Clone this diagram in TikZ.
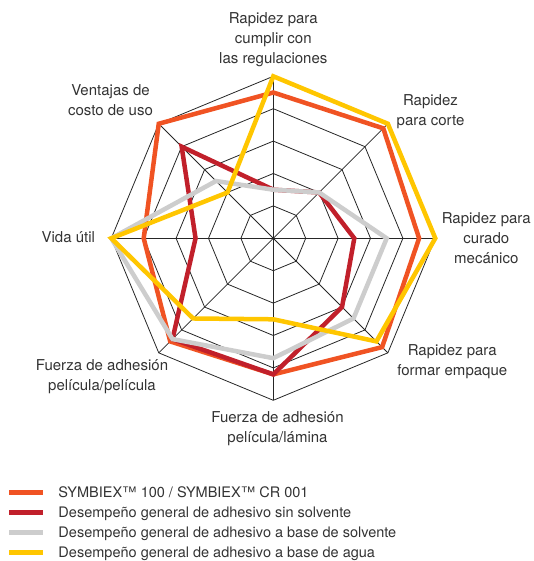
\documentclass[tikz,border=0pt]{standalone}
\usepackage{fontspec}
\setmainfont{TeX Gyre Heros}
\usetikzlibrary{positioning}

\definecolor{symbiex}{HTML}{F05323}
\definecolor{sinsolv}{HTML}{C1202B}
\definecolor{solvente}{HTML}{CDCDCD}
\definecolor{agua}{HTML}{FFC600}
\definecolor{txt}{HTML}{333333}

% one series: colour, then the eight values clockwise from the top
\newcommand{\radar}[9]{%
  \draw[serie,#1] (90:#2*\ring) -- (45:#3*\ring) -- (0:#4*\ring) -- (-45:#5*\ring)
    -- (-90:#6*\ring) -- (-135:#7*\ring) -- (180:#8*\ring) -- (135:#9*\ring) -- cycle;}

\begin{document}
\begin{tikzpicture}[x=1pt,y=1pt]
    % Define styles
    \tikzstyle{grid}=[draw=black!85,line width=0.8pt]
    \tikzstyle{serie}=[line width=4.5pt]
    \tikzstyle{axislabel}=[text=txt,font=\fontsize{15}{20}\selectfont,align=center,inner sep=0pt]
    \tikzstyle{legendtext}=[text=txt,font=\fontsize{14.5}{17}\selectfont,anchor=base west,inner sep=0pt]
    \def\ring{32.4}

    \useasboundingbox (-273.3,-322.7) rectangle (259.7,238.3);
    \coordinate (O) at (0,0);

    % Rings
    \foreach \r in {1,...,5} {
        \draw[grid] (90:\r*\ring) \foreach \k in {1,...,7} { -- (90-\k*45:\r*\ring) } -- cycle;
    }

    % Spokes
    \foreach \k in {0,...,7} {
        \coordinate (ax\k) at (90-\k*45:5*\ring);
        \draw[grid] (O) -- (ax\k);
    }

    % Series
    \radar{symbiex}{4.5}{4.8}{4.5}{4.75}{4.2}{4.5}{4.0}{5.0}
    \radar{sinsolv}{1.5}{2.0}{2.5}{3.0}{4.2}{4.4}{2.4}{4.0}
    \radar{solvente}{1.5}{2.0}{3.5}{3.5}{3.7}{4.4}{5.0}{2.5}
    \radar{agua}{5.0}{5.0}{5.0}{4.5}{2.5}{3.5}{5.0}{2.0}

    % Axis labels
    \node[axislabel] (lab0) at (0,199.1) {Rapidez para\\cumplir con\\las regulaciones};
    \node[axislabel] (lab1) at (157.2,127) {Rapidez\\para corte};
    \node[axislabel] (lab2) at (213,0.5) {Rapidez para\\curado\\mecánico};
    \node[axislabel] (lab3) at (179,-123.5) {Rapidez para\\formar empaque};
    \node[axislabel] (lab4) at (4.2,-190.2) {Fuerza de adhesión\\película/lámina};
    \node[axislabel] (lab5) at (-171.3,-138.4) {Fuerza de adhesión\\película/película};
    \node[axislabel] (lab6) at (-205,1.6) {Vida útil};
    \node[axislabel] (lab7) at (-162.8,138) {Ventajas de\\costo de uso};

    % Legend
    \foreach \col/\name [count=\i] in {symbiex/{SYMBIEX™ 100 / SYMBIEX™ CR 001},
        sinsolv/{Desempeño general de adhesivo sin solvente},
        solvente/{Desempeño general de adhesivo a base de solvente},
        agua/{Desempeño general de adhesivo a base de agua}} {
        \coordinate (leg\i s) at (-264,-234-20*\i);
        \coordinate (leg\i e) at (-230.6,-234-20*\i);
        \draw[serie,\col] (leg\i s) -- (leg\i e);
        \node[legendtext] (legtxt\i) at (-215,-239-20*\i) {\name};
    }
\end{tikzpicture}
\end{document}
